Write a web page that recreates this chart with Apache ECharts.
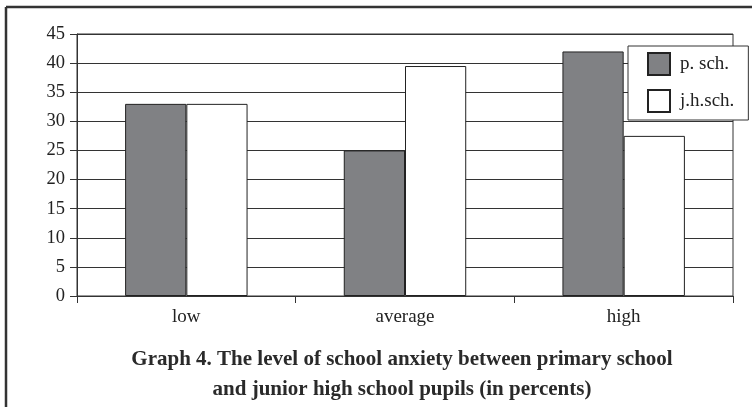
<!DOCTYPE html>
<html><head><meta charset="utf-8">
<script src="https://cdn.jsdelivr.net/npm/echarts@6/dist/echarts.min.js"></script>
<style>html,body{margin:0;padding:0;background:#fff}#c{width:752px;height:407px}</style>
</head><body><div id="c"></div>
<script>
const categories = ['low', 'average', 'high'];
const pSch = [33, 25, 42];
const jhSch = [33, 39.5, 27.5];
const seriesNames = ['p. sch.', 'j.h.sch.'];
const yTicks = {min: 0, max: 45, interval: 5};
const caption = 'Graph 4. The level of school anxiety between primary school\nand junior high school pupils (in percents)';

const chart = echarts.init(document.getElementById('c'));
const serif = '"Liberation Serif", "DejaVu Serif", serif';
chart.setOption({
  animation: false,
  backgroundColor: '#fff',
  title: {
    text: caption,
    left: 397, top: 340, textAlign: 'center',
    textStyle: {fontFamily: serif, fontWeight: 'bold', fontSize: 21, lineHeight: 30, color: '#2a2a2a'}
  },
  graphic: [
    {type: 'line', shape: {x1: 6, y1: 7, x2: 752, y2: 7}, style: {stroke: '#333', lineWidth: 2.5}},
    {type: 'line', shape: {x1: 6, y1: 7, x2: 6, y2: 407}, style: {stroke: '#333', lineWidth: 2.5}}
  ],
  legend: {
    orient: 'vertical', left: 628, top: 46,
    backgroundColor: '#fff', borderColor: '#333', borderWidth: 1,
    padding: [6, 14, 7, 19], itemGap: 13, itemWidth: 22, itemHeight: 22,
    icon: 'rect',
    textStyle: {fontFamily: serif, fontSize: 19, color: '#222', padding: [0, 0, 0, 5]},
    data: seriesNames
  },
  grid: {left: 77, top: 34, right: 19, bottom: 111, show: true, borderColor: '#333', borderWidth: 1},
  xAxis: {
    type: 'category', data: categories,
    axisLine: {lineStyle: {color: '#333', width: 1}},
    axisTick: {show: true, length: 7, lineStyle: {color: '#333'}},
    axisLabel: {fontFamily: serif, fontSize: 19, color: '#222', margin: 12}
  },
  yAxis: {
    type: 'value', min: yTicks.min, max: yTicks.max, interval: yTicks.interval,
    axisLine: {show: true, lineStyle: {color: '#333', width: 1}},
    axisTick: {show: true, length: 7, lineStyle: {color: '#333'}},
    splitLine: {lineStyle: {color: '#333', width: 1}},
    axisLabel: {fontFamily: serif, fontSize: 18.5, color: '#222', margin: 12}
  },
  series: [
    {name: seriesNames[0], type: 'bar', data: pSch, barGap: '0%', barCategoryGap: '44%',
     itemStyle: {color: '#808184', borderColor: '#222', borderWidth: 1}},
    {name: seriesNames[1], type: 'bar', data: jhSch, barGap: '0%', barCategoryGap: '44%',
     itemStyle: {color: '#fff', borderColor: '#222', borderWidth: 1}}
  ]
});
</script></body></html>
